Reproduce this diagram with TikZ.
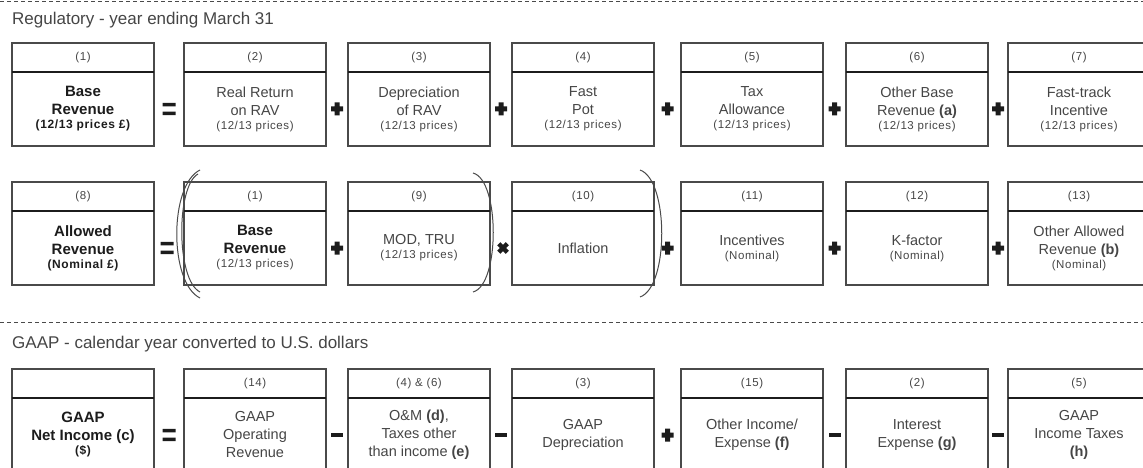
\documentclass[tikz,border=0pt]{standalone}
\usepackage{fontspec}
\setmainfont{Liberation Sans}
\newfontfamily\spacedfont[LetterSpace=5]{Liberation Sans}
\usepackage{tikz}
\usetikzlibrary{positioning,calc}
\definecolor{linegray}{HTML}{4A4A4A}
\definecolor{textgray}{HTML}{454545}
\definecolor{darkink}{HTML}{1C1C1C}
\newcommand{\pricenote}[1]{{\spacedfont\fontsize{11.5}{13}\selectfont #1}}
\newcommand{\boldnote}[1]{{\spacedfont\bfseries\fontsize{12}{13}\selectfont #1}}
\tikzstyle{boxhead}=[draw=linegray, line width=1.1pt, inner sep=0, outer sep=0, minimum width=142pt, minimum height=29pt,
                     text=textgray, font=\spacedfont\fontsize{11.5}{13}\selectfont]
\tikzstyle{boxbody}=[boxhead, minimum height=74pt, align=center, font=\fontsize{14.5}{18}\selectfont]
\tikzstyle{keybody}=[boxbody, text=darkink, font=\bfseries\fontsize{15}{18}\selectfont]
\tikzstyle{sepline}=[draw=darkink, line width=2.4pt]
\tikzstyle{op}=[inner sep=0, outer sep=0, minimum size=16pt]
\tikzstyle{opplus}=[op, path picture={\fill[darkink, shift={(path picture bounding box.center)}]
                        (-6pt,-2.5pt) rectangle (6pt,2.5pt) (-2.5pt,-6.5pt) rectangle (2.5pt,6.5pt);}]
\tikzstyle{optimes}=[op, path picture={\fill[darkink, shift={(path picture bounding box.center)}]
                        (2.7pt,5.8pt) -- (5.8pt,2.7pt) -- (-2.7pt,-5.8pt) -- (-5.8pt,-2.7pt) -- cycle
                        (5.8pt,-2.7pt) -- (2.7pt,-5.8pt) -- (-5.8pt,2.7pt) -- (-2.7pt,5.8pt) -- cycle;}]
\tikzstyle{opminus}=[op, path picture={\fill[darkink, shift={(path picture bounding box.center)}]
                        (-6pt,-2pt) rectangle (6pt,2pt);}]
\tikzstyle{opequal}=[op, path picture={\fill[darkink, shift={(path picture bounding box.center)}]
                        (-6.5pt,-6.2pt) rectangle (6.5pt,-2.6pt) (-6.5pt,2.6pt) rectangle (6.5pt,6.2pt);}]
\tikzstyle{divider}=[draw=linegray, line width=1pt, dash pattern=on 4pt off 3pt]
\tikzstyle{paren}=[draw=linegray, line width=1pt]
\tikzstyle{title}=[inner sep=0, anchor=base west, text=textgray, font=\fontsize{17}{20}\selectfont]
% header cell, body cell and the heavy rule between them
\newcommand{\valuebox}[6][boxbody]{%
  \node[boxhead] (#2head) at (#3,#4) {#5};
  \node[#1, below=0pt of #2head] (#2) {#6};
  \draw[sepline] (#2.north west) -- (#2.north east);}

\begin{document}
\begin{tikzpicture}[x=1pt, y=-1pt]
    \useasboundingbox (0,0) rectangle (1143,468);
    \clip (0,0) rectangle (1143,468);
    % regulatory
    \draw[divider] (0,1.5) -- (1143,1.5);
    \node[title] (regtitle) at (12,25) {Regulatory - year ending March 31};
    \valuebox[keybody]{base}{83}{57.5}{(1)}{Base\\Revenue\\[-4pt]\boldnote{(12/13 prices £)}}
    \valuebox{realret}{255}{57.5}{(2)}{Real Return\\on RAV\\[-4pt]\pricenote{(12/13 prices)}}
    \valuebox{deprec}{419}{57.5}{(3)}{Depreciation\\of RAV\\[-4pt]\pricenote{(12/13 prices)}}
    \valuebox{fastpot}{583}{57.5}{(4)}{Fast\\Pot\\[-4pt]\pricenote{(12/13 prices)}}
    \valuebox{taxallow}{752}{57.5}{(5)}{Tax\\Allowance\\[-4pt]\pricenote{(12/13 prices)}}
    \valuebox{otherbase}{917}{57.5}{(6)}{Other Base\\Revenue \textbf{(a)}\\[-4pt]\pricenote{(12/13 prices)}}
    \valuebox{fasttrack}{1079}{57.5}{(7)}{Fast-track\\Incentive\\[-4pt]\pricenote{(12/13 prices)}}
    \node[opequal] (eqA) at ($(base.east)!.5!(realret.west)$) {};
    \node[opplus]  (plA1) at ($(realret.east)!.5!(deprec.west)$) {};
    \node[opplus]  (plA2) at ($(deprec.east)!.5!(fastpot.west)$) {};
    \node[opplus]  (plA3) at ($(fastpot.east)!.5!(taxallow.west)$) {};
    \node[opplus]  (plA4) at ($(taxallow.east)!.5!(otherbase.west)$) {};
    \node[opplus]  (plA5) at ($(otherbase.east)!.5!(fasttrack.west)$) {};

    \valuebox[keybody]{allowed}{83}{196.5}{(8)}{Allowed\\Revenue\\[-4pt]\boldnote{(Nominal £)}}
    \valuebox[keybody]{basetwo}{255}{196.5}{(1)}{Base\\Revenue\\[-4pt]\mdseries\color{textgray}\pricenote{(12/13 prices)}}
    \valuebox{modtru}{419}{196.5}{(9)}{MOD, TRU\\[-4pt]\pricenote{(12/13 prices)}}
    \valuebox{inflation}{583}{196.5}{(10)}{Inflation}
    \valuebox{incent}{752}{196.5}{(11)}{Incentives\\[-4pt]\pricenote{(Nominal)}}
    \valuebox{kfactor}{917}{196.5}{(12)}{K-factor\\[-4pt]\pricenote{(Nominal)}}
    \valuebox{otherallowed}{1079}{196.5}{(13)}{Other Allowed\\Revenue \textbf{(b)}\\[-4pt]\pricenote{(Nominal)}}
    \node[opequal] (eqB) at ($(allowed.east)!.5!(basetwo.west)+(-2,0)$) {};
    \node[opplus]  (plB1) at ($(basetwo.east)!.5!(modtru.west)$) {};
    \node[optimes] (tmB) at ($(modtru.east)!.5!(inflation.west)+(2,0)$) {};
    \node[opplus]  (plB2) at ($(inflation.east)!.5!(incent.west)$) {};
    \node[opplus]  (plB3) at ($(incent.east)!.5!(kfactor.west)$) {};
    \node[opplus]  (plB4) at ($(kfactor.east)!.5!(otherallowed.west)$) {};
    % brackets round (1)+(9) and round the product
    \draw[paren] (200,170) .. controls (169,185) and (169,283) .. (200,298);
    \draw[paren] (198,174) .. controls (176,186) and (176,280) .. (200,292);
    \draw[paren] (473,173) .. controls (500,180) and (500,285) .. (473,292);
    \draw[paren] (640,170) .. controls (669,180) and (669,287) .. (640,297);

    % gaap
    \draw[divider] (0,322) -- (1143,322);
    \node[title] (gaaptitle) at (12,348) {GAAP - calendar year converted to U.S. dollars};
    \valuebox[keybody]{netinc}{83}{383.5}{}{GAAP\\Net Income (c)\\[-4pt]\boldnote{(\$)}}
    \valuebox{oprev}{255}{383.5}{(14)}{GAAP\\Operating\\Revenue}
    \valuebox{omtax}{419}{383.5}{(4) \& (6)}{O\&M \textbf{(d)},\\Taxes other\\than income \textbf{(e)}}
    \valuebox{gaapdep}{583}{383.5}{(3)}{GAAP\\Depreciation}
    \valuebox{otherinc}{752}{383.5}{(15)}{Other Income/\\Expense \textbf{(f)}}
    \valuebox{interest}{917}{383.5}{(2)}{Interest\\Expense \textbf{(g)}}
    \valuebox{inctax}{1079}{383.5}{(5)}{GAAP\\Income Taxes\\\textbf{(h)}}
    \node[opequal] (eqC) at ($(netinc.east)!.5!(oprev.west)$) {};
    \node[opminus] (mnC1) at ($(oprev.east)!.5!(omtax.west)$) {};
    \node[opminus] (mnC2) at ($(omtax.east)!.5!(gaapdep.west)$) {};
    \node[opplus]  (plC1) at ($(gaapdep.east)!.5!(otherinc.west)$) {};
    \node[opminus] (mnC3) at ($(otherinc.east)!.5!(interest.west)$) {};
    \node[opminus] (mnC4) at ($(interest.east)!.5!(inctax.west)$) {};
\end{tikzpicture}
\end{document}
